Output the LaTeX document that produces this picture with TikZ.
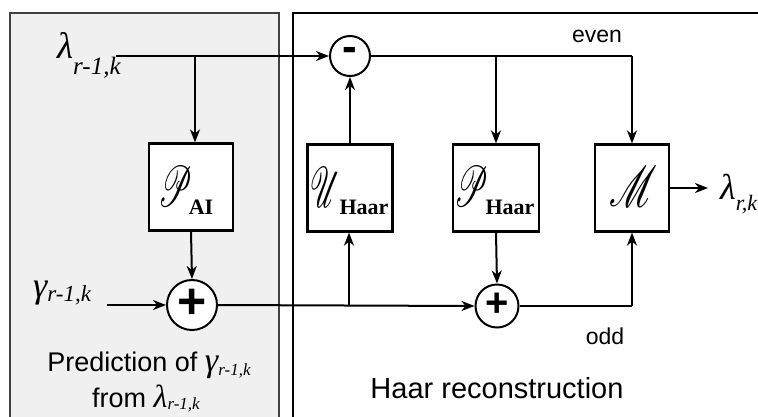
\documentclass[tikz,border=0pt]{standalone}
\usepackage{fontspec}
\setmainfont{Liberation Serif}
\newfontfamily\sansf{Liberation Sans}
\usepackage{mathrsfs}
\usepackage{pdfrender}
\usetikzlibrary{arrows.meta}
\newcommand{\fsz}[1]{\fontsize{#1}{#1}\selectfont}
\newcommand{\scr}[3]{\textpdfrender{TextRenderingMode=FillStroke,LineWidth=2.5pt}{\scalebox{#2}[#3]{\fsz{24.88}$\mathscr{#1}$}}}
\begin{document}
\begin{tikzpicture}[x=1pt,y=-1pt,
  conn/.style={line width=2pt},
  arr/.style={conn,-{Stealth[length=13pt,width=10pt,inset=4pt]}},
  blk/.style={draw,line width=2.2pt,fill=white,inner sep=0pt,minimum height=87pt},
  sumnode/.style={draw,circle,line width=2pt,fill=white,inner sep=0pt,minimum size=#1},
  lbl/.style={inner sep=0pt,font=\sansf},
  glyph/.style={inner sep=0pt,anchor=center},
  sub/.style={inner sep=0pt,anchor=center,font=\fsz{22}\bfseries}
]
\clip (0,0) rectangle (758,416);
\fill[white] (0,0) rectangle (758,416);
\draw[line width=1.5pt,draw=black!75,fill=black!6] (10,13) rectangle (279,440);
\draw[line width=1.5pt,draw=black] (293,13) rectangle (780,440);

% blocks
\node[blk,minimum width=84pt] (pai) at (191,187) {};
\node[blk,minimum width=85pt] (uh) at (350,188) {};
\node[blk,minimum width=86pt] (ph) at (496,188) {};
\node[blk,minimum width=74pt] (mm) at (632,188) {};
\node[glyph] (paiG) at (176,186) {\scr{P}{1.25}{2.3}};
\node[sub] (paiS) at (201,207) {AI};
\node[glyph] (uhG) at (326,187) {\scr{U}{1.15}{2.3}};
\node[sub] (uhS) at (364,207) {Haar};
\node[glyph] (phG) at (471,186) {\scr{P}{1.25}{2.3}};
\node[sub] (phS) at (510,207) {Haar};
\node[glyph] (mmG) at (633,186) {\scr{M}{1.55}{2.3}};

% sums
\node[sumnode=50pt] (plus1) at (192,305) {\sansf\bfseries\fsz{50}\raisebox{2pt}{+}};
\node[sumnode=43pt] (plus2) at (497,306) {\sansf\bfseries\fsz{40}\raisebox{2pt}{+}};
\node[sumnode=40pt] (minus) at (350,56) {\sansf\bfseries\fsz{44}\raisebox{3pt}{-}};

% labels
\node[inner sep=0pt,anchor=base west] (lam) at (57,58) {\fsz{37}\itshape λ\raisebox{-16pt}{\fsz{25}r-1,k}};
\node[inner sep=0pt,anchor=base west] (gam) at (33,297) {\fsz{36}\itshape γ\raisebox{-4pt}{\fsz{23}r-1,k}};
\node[inner sep=0pt,anchor=base west] (lamout) at (720,199) {\fsz{36}\itshape λ\raisebox{-11pt}{\fsz{22}r,k}};
\node[lbl,anchor=base] (even) at (597,42) {\fsz{23}even};
\node[lbl,anchor=base] (odd) at (605,344) {\fsz{23}odd};
\node[lbl,anchor=base] (haar) at (497,398) {\fsz{29}Haar reconstruction};
\node[lbl,anchor=base] (pred1) at (149,371) {\fsz{27}Prediction of {\rmfamily\itshape\fsz{34}γ\raisebox{-4pt}{\fsz{17}r-1,k}}};
\node[lbl,anchor=base] (pred2) at (146,407) {\fsz{27}from {\rmfamily\itshape\fsz{32}λ\raisebox{-2pt}{\fsz{17}r-1,k}}};

% coordinates
\coordinate (lamend) at (116,56);
\coordinate (b1) at (195,56);
\coordinate (gstart) at (107,305);
\coordinate (b2) at (349,305);
\coordinate (b3) at (496,56);
\coordinate (c1) at (632,56);
\coordinate (c2) at (632,306);
\coordinate (outend) at (708,188);

% connectors
\draw[arr] (lamend) -- (minus.west);
\draw[arr] (b1) -- (b1 |- pai.north);
\draw[arr] (pai.south) -- (plus1.north);
\draw[arr] (gstart) -- (plus1.west);
\draw[arr] (plus1.east) -- (plus2.west);
\draw[arr] (b2) -- (b2 |- uh.south);
\draw[arr] (uh.north) -- (minus.south);
\draw[conn] (minus.east) -- (c1);
\draw[arr] (c1) -- (mm.north);
\draw[arr] (b3) -- (ph.north);
\draw[arr] (ph.south) -- (plus2.north);
\draw[conn] (plus2.east) -- (c2);
\draw[arr] (c2) -- (mm.south);
\draw[arr] (mm.east) -- (outend);
\end{tikzpicture}
\end{document}
